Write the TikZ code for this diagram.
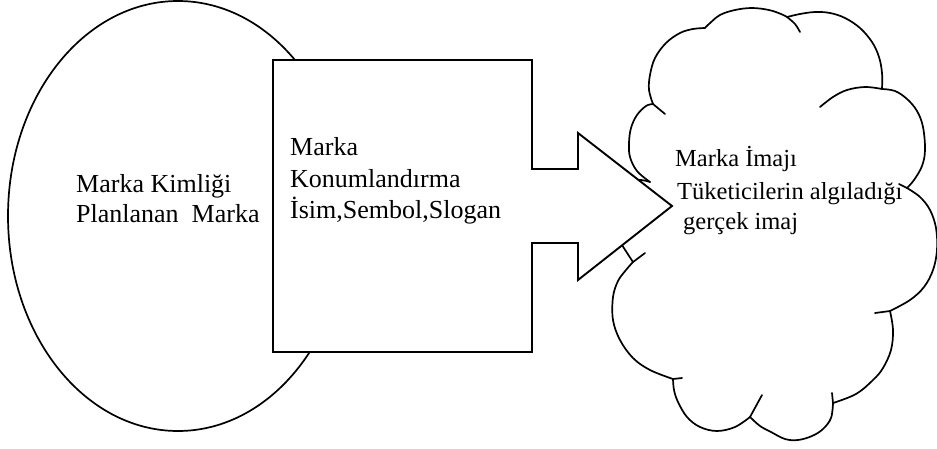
\documentclass[tikz,border=0pt]{standalone}
\usepackage{fontspec}
\setmainfont{Liberation Serif}
\usetikzlibrary{shapes.geometric}
\begin{document}
\begin{tikzpicture}[x=1pt,y=-1pt,
  outline/.style={draw=black, line width=1.9pt},
  cloudline/.style={draw=black, line width=1.7pt, line join=round, line cap=round},
  txt/.style={anchor=base west, inner sep=0pt, font=\fontsize{26}{31}\selectfont},
  cloudtxt/.style={txt, font=\fontsize{24.5}{31}\selectfont}]
\useasboundingbox (0,0) rectangle (937,448);
\fill[white] (0,0) rectangle (937,448);

% planned identity: large ellipse on the left
\node[ellipse, draw, line width=1.7pt, minimum width=340pt, minimum height=430pt, inner sep=0pt] (kimlik) at (178,216) {};

% perceived image: cloud, one bump at a time
\begin{scope}[cloudline]
  \draw plot[smooth, tension=0.6] coordinates {(650,182) (637,171) (630,157) (629,143) (631,128) (637,115) (646,106) (653,104)};
  \draw plot[smooth, tension=0.6] coordinates {(653,104) (649,90) (650,75) (655,58) (666,43) (680,33) (693,29) (705,28)};
  \draw plot[smooth, tension=0.6] coordinates {(705,28) (709,24) (720,15) (735,10) (752,8) (769,10) (781,14) (787,17)};
  \draw plot[smooth, tension=0.6] coordinates {(787,17) (800,14) (815,12) (830,13) (845,18) (860,28) (872,42) (879,57) (882,73) (882,89)};
  \draw plot[smooth, tension=0.6] coordinates {(882,89) (895,91) (907,99) (917,111) (923,127) (925,150) (922,166) (914,180) (907,188)};
  \draw plot[smooth, tension=0.6] coordinates {(907,188) (920,197) (930,210) (936,228) (937,250) (933,270) (924,287) (910,300) (890,311)};
  \draw plot[smooth, tension=0.6] coordinates {(890,311) (893,330) (891,350) (883,368) (873,380) (856,394) (833,403)};
  \draw plot[smooth, tension=0.6] coordinates {(833,403) (831,418) (823,429) (812,436) (798,440) (785,439) (771,432) (760,426) (750,417)};
  \draw plot[smooth, tension=0.6] coordinates {(750,417) (735,427) (717,431) (700,427) (687,417) (678,402) (674,390) (673,379)};
  \draw plot[smooth, tension=0.6] coordinates {(673,379) (650,370) (633,358) (620,340) (613,320) (613,297) (618,281) (626,270) (633,262)};
  \draw plot[smooth, tension=0.6] coordinates {(633,262) (622,245) (612,228) (608,212) (612,197) (624,186) (638,180) (650,182)};
  % short inner tails where the bumps meet
  \draw (653,104) -- (665,114);
  \draw plot[smooth, tension=0.6] coordinates {(787,17) (795,24) (800,32)};
  \draw plot[smooth, tension=0.6] coordinates {(882,89) (865,87) (847,90) (833,97) (820,107)};
  \draw (907,188) -- (899,184);
  \draw (890,311) -- (875,313);
  \draw (833,403) -- (832,393);
  \draw (750,417) -- (762,395);
  \draw (673,379) -- (682,378);
  \draw (633,262) -- (645,253);
\end{scope}

% positioning box with its arrow, drawn over the other two shapes
\draw[outline, fill=white, line join=miter] (273,60) coordinate (boxnw) -- (532,60) -- (532,169) -- (578,169) -- (578,133)
  -- (672,206) coordinate (tip) -- (578,280) -- (578,243) -- (532,243) -- (532,352) -- (273,352) -- cycle;

% texts
\node[txt] (k1) at (76,192) {Marka Kimliği};
\node[txt] (k2) at (76,222) {Planlanan\ \ Marka};
\node[txt] (p1) at (290,155) {Marka};
\node[txt] (p2) at (290,187) {Konumlandırma};
\node[txt] (p3) at (290,218) {İsim,Sembol,Slogan};
\node[cloudtxt] (i1) at (675,166) {Marka İmajı};
\node[cloudtxt] (i2) at (677,199) {Tüketicilerin algıladığı};
\node[cloudtxt] (i3) at (683,229) {gerçek imaj};
\end{tikzpicture}
\end{document}
